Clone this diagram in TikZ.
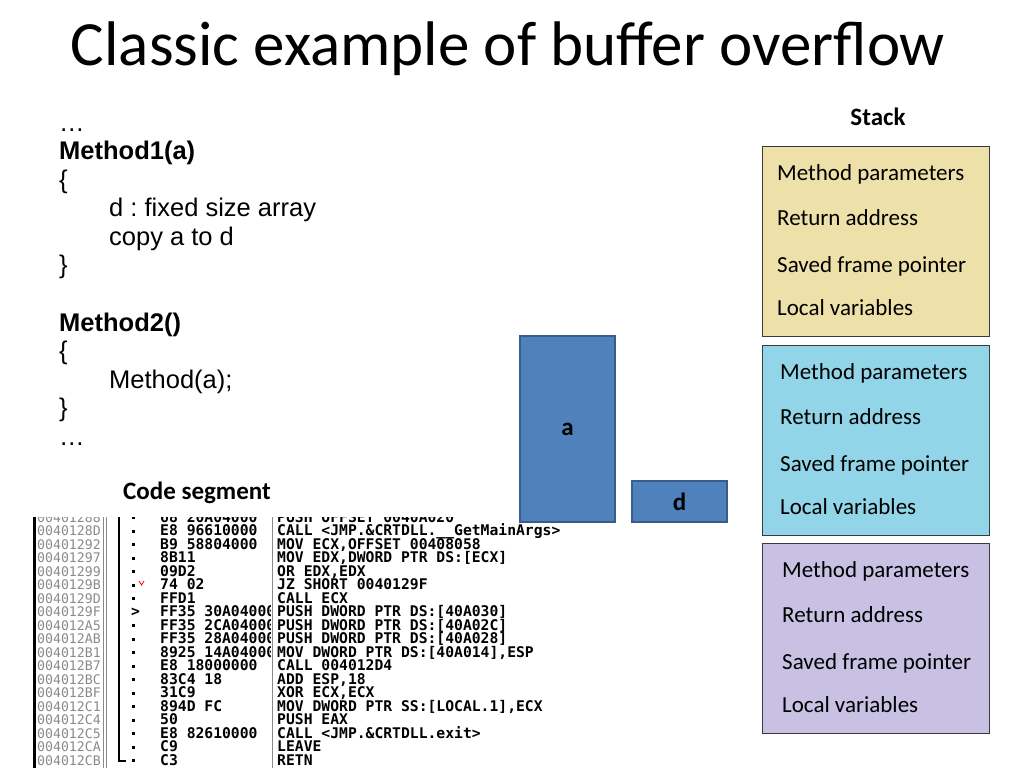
\documentclass[tikz,border=0pt]{standalone}
\usepackage{fontspec}
\setmainfont{Carlito}
\newfontfamily\codefont{Liberation Sans}
\newfontfamily\ollyfont{DejaVu Sans Mono}
\usepackage{tikz}
\usetikzlibrary{positioning}
\definecolor{stackTan}{HTML}{EDE0A8}
\definecolor{stackBlue}{HTML}{92D5E8}
\definecolor{stackLila}{HTML}{C8C1E4}
\definecolor{varBlue}{HTML}{4F81BD}
\definecolor{varEdge}{HTML}{385D8A}
\definecolor{frameGray}{HTML}{3A3A3A}
\definecolor{addrGray}{HTML}{8A8A8A}
\frenchspacing

\tikzset{
  src/.style={anchor=base west,font=\codefont\fontsize{25.5}{28}\selectfont},
  stackbox/.style={draw=frameGray,line width=1.3pt,anchor=north west,minimum width=227pt,minimum height=190pt},
  stacktxt/.style={anchor=base west,font=\fontsize{23}{26}\selectfont},
  varbox/.style={draw=varEdge,line width=2pt,fill=varBlue,anchor=north west,minimum width=95pt},
  lbl/.style={font=\bfseries\fontsize{25}{27}\selectfont},
  olly/.style={anchor=base west,font=\ollyfont\bfseries\fontsize{14.7}{13.5}\selectfont},
}

\begin{document}
\begin{tikzpicture}[x=1pt,y=-1pt,every node/.style={inner sep=0pt}]
\useasboundingbox (0,0) rectangle (1024,768);

% title
\node[anchor=base] (title) at (508,65) {\fontsize{63}{70}\selectfont Classic example of buffer overflow};

% pseudo code
\node[src] (l0) at (59,131) {…};
\node[src] (l1) at (59,159.5) {\bfseries Method1(a)};
\node[src] (l2) at (59,188) {\{};
\node[src] (l3) at (109,216.5) {d : fixed size array};
\node[src] (l4) at (109,245) {copy a to d};
\node[src] (l5) at (59,273.5) {\}};
\node[src] (l7) at (59,331) {\bfseries Method2()};
\node[src] (l8) at (59,359.5) {\{};
\node[src] (l9) at (109,388) {Method(a);};
\node[src] (l10) at (59,416.5) {\}};
\node[src] (l11) at (59,445) {…};

\node[lbl] (codeseg) at (197,493) {Code segment};
\node[lbl] (stack) at (878,117) {Stack};

% stack frames
\node[stackbox,fill=stackTan] (f1) at (762,146) {};
\node[stackbox,fill=stackBlue] (f2) at (762,345) {};
\node[stackbox,fill=stackLila] (f3) at (762,543) {};
\foreach \top/\dx in {146/777,345/780,543/782}{
  \foreach \t/\dy in {Method parameters/34,Return address/79,Saved frame pointer/126,Local variables/169}
    \node[stacktxt] at (\dx,\top+\dy) {\t};
}

% variables
\node[varbox,minimum height=186pt] (a) at (519,335) {};
\node[lbl] at (a.center) {a};
\node[varbox,minimum height=41pt] (d) at (631,480) {};
\node[lbl] at (d.center) {d};

% disassembly
\begin{scope}
\clip (33,517) rectangle (600,768);
\draw[line width=2.5pt] (34.5,517) -- (34.5,768);
\draw[addrGray,line width=0.6pt] (103,517) -- (103,768) (106,517) -- (106,768);
\draw[addrGray,line width=0.6pt] (272,517) -- (272,768);
\draw[line width=2pt] (119,517) -- (119,761) -- (126,761);
\foreach \ad/\hx/\mn [count=\i from 0] in {
  00401288/{68 20A04000}/{PUSH OFFSET 0040A020},
  0040128D/{E8 96610000}/{CALL <JMP.\&CRTDLL.\char"5F\char"5F GetMainArgs>},
  00401292/{B9 58804000}/{MOV ECX,OFFSET 00408058},
  00401297/{8B11}/{MOV EDX,DWORD PTR DS:[ECX]},
  00401299/{09D2}/{OR EDX,EDX},
  0040129B/{74 02}/{JZ SHORT 0040129F},
  0040129D/{FFD1}/{CALL ECX},
  0040129F/{FF35 30A04000}/{PUSH DWORD PTR DS:[40A030]},
  004012A5/{FF35 2CA04000}/{PUSH DWORD PTR DS:[40A02C]},
  004012AB/{FF35 28A04000}/{PUSH DWORD PTR DS:[40A028]},
  004012B1/{8925 14A04000}/{MOV DWORD PTR DS:[40A014],ESP},
  004012B7/{E8 18000000}/{CALL 004012D4},
  004012BC/{83C4 18}/{ADD ESP,18},
  004012BF/{31C9}/{XOR ECX,ECX},
  004012C1/{894D FC}/{MOV DWORD PTR SS:[LOCAL.1],ECX},
  004012C4/{50}/{PUSH EAX},
  004012C5/{E8 82610000}/{CALL <JMP.\&CRTDLL.exit>},
  004012CA/{C9}/{LEAVE},
  004012CB/{C3}/{RETN}}{
  \node[olly,addrGray,font=\ollyfont\mdseries\fontsize{13.2}{13.5}\selectfont] at (37,{522+13.5*\i}) {\ad};
  \begin{scope}
    \clip (150,517) rectangle (270.5,768);
    \node[olly] at (160,{522+13.5*\i}) {\hx};
  \end{scope}
  \node[olly] at (277,{522+13.5*\i}) {\mn};
  \ifnum\i=7\else
    \fill (132,{516+13.5*\i}) rectangle +(3,3);
  \fi
}
% jump marks
\draw[red,line width=0.8pt] (139,{513.5+13.5*5}) -- (141.5,{517.5+13.5*5}) -- (144,{513.5+13.5*5});
\node[olly] at (131,{522+13.5*7}) {>};
\end{scope}
\end{tikzpicture}
\end{document}
